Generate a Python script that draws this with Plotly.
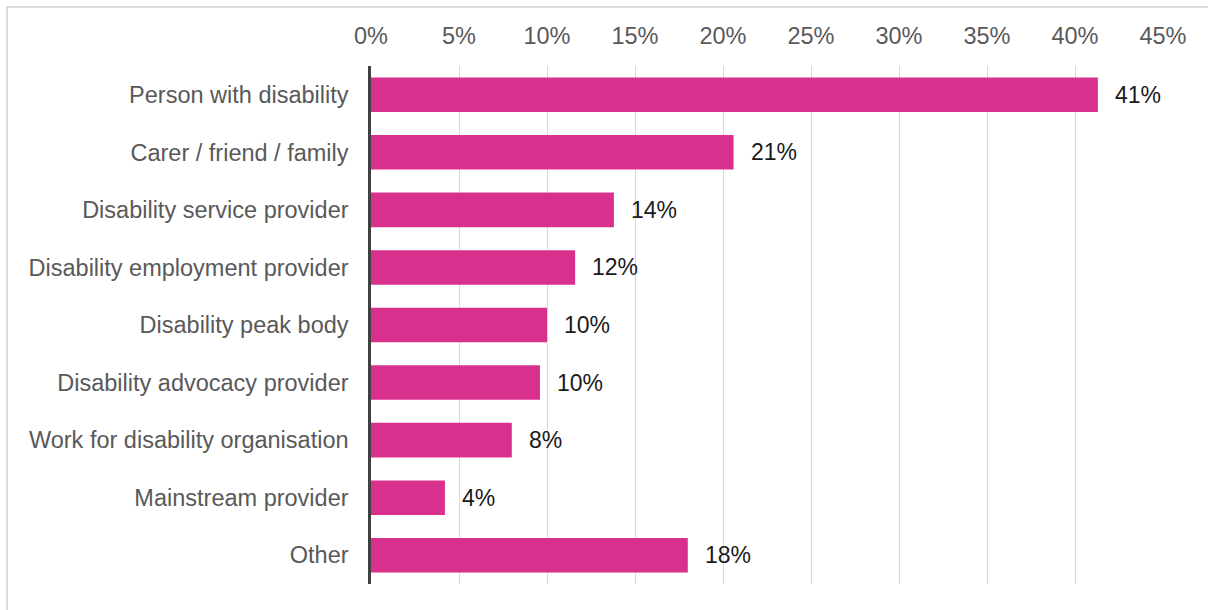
import plotly.graph_objects as go

# Respondent groups, top to bottom
categories = [
    "Person with disability",
    "Carer / friend / family",
    "Disability service provider",
    "Disability employment provider",
    "Disability peak body",
    "Disability advocacy provider",
    "Work for disability organisation",
    "Mainstream provider",
    "Other",
]
# Share of respondents (%)
shares = [41.3, 20.6, 13.8, 11.6, 10.0, 9.6, 8.0, 4.2, 18.0]
tick_values = [0, 5, 10, 15, 20, 25, 30, 35, 40, 45]
tick_labels = [f"{v}%" for v in tick_values]

BAR = "#D9308E"
FONT = "Liberation Sans, Arial, sans-serif"

W, H = 1208, 610
ML, MR, MT, MB = 371, 45, 66, 26
pw, ph = W - ML - MR, H - MT - MB

fig = go.Figure(
    go.Bar(
        x=shares,
        y=categories,
        orientation="h",
        marker=dict(color=BAR, line=dict(width=0)),
        width=0.6,
        hoverinfo="skip",
    )
)

# value labels just past each bar end
for cat, val in zip(categories, shares):
    fig.add_annotation(
        x=val, y=cat, xref="x", yref="y",
        text=f"{val:.0f}%", showarrow=False,
        xanchor="left", yanchor="middle", xshift=15,
        font=dict(family=FONT, size=23, color="#1a1a1a"),
    )

# light frame around the chart
fig.add_shape(
    type="rect", xref="paper", yref="paper",
    x0=(7 - ML) / pw, x1=(W + 20 - ML) / pw,
    y0=-(MB + 20) / ph, y1=(H - 7 - MB) / ph,
    line=dict(color="#d0d0d0", width=1.5), fillcolor="rgba(0,0,0,0)", layer="below",
)

fig.update_layout(
    width=W, height=H,
    margin=dict(l=ML, r=MR, t=MT, b=MB, pad=0),
    paper_bgcolor="white", plot_bgcolor="white",
    showlegend=False,
    bargap=0.4,
    font=dict(family=FONT, size=23, color="#595959"),
    xaxis=dict(
        side="top", range=[0, 45],
        tickvals=tick_values, ticktext=tick_labels,
        showgrid=True, gridcolor="#d9d9d9", gridwidth=1,
        zeroline=False, showline=False, ticks="",
        ticklabelstandoff=16,
        tickfont=dict(family=FONT, size=23.5, color="#595959"),
        fixedrange=True,
    ),
    yaxis=dict(
        autorange="reversed",
        showgrid=False, zeroline=False,
        showline=True, linecolor="#404040", linewidth=2.5,
        ticks="", ticklabelstandoff=15,
        tickfont=dict(family=FONT, size=23.5, color="#595959"),
        fixedrange=True,
    ),
)

fig.write_html("out.html")
